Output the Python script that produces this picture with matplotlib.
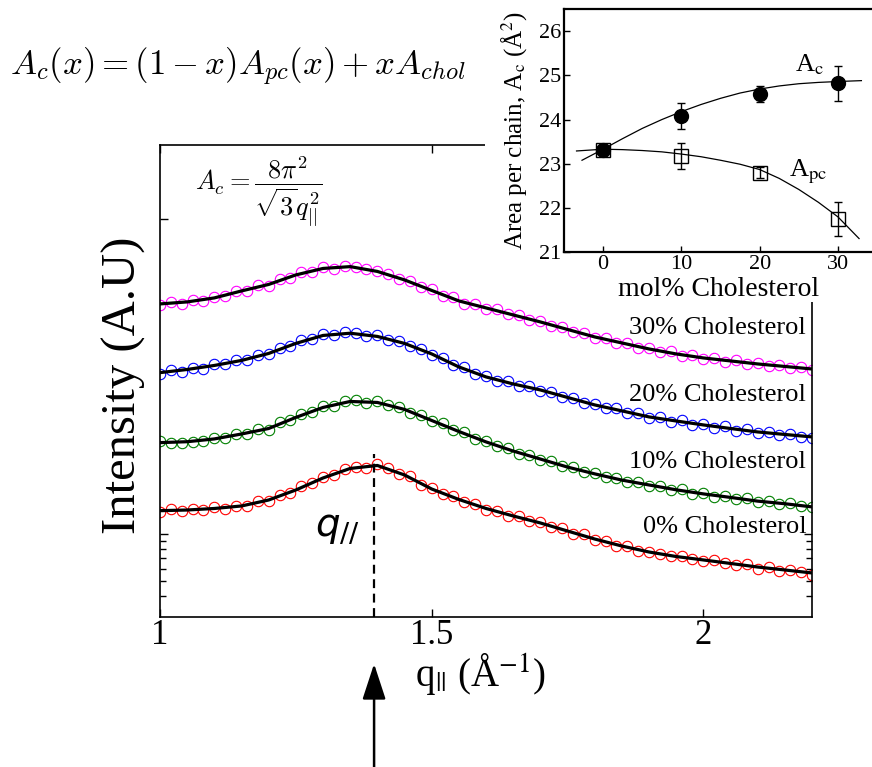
import numpy as np
import matplotlib
matplotlib.use('Agg')
import matplotlib.pyplot as plt
from matplotlib.patches import Rectangle

plt.rcParams['font.family'] = ['Liberation Serif', 'DejaVu Serif']
plt.rcParams['mathtext.fontset'] = 'stix'

# measured points, q in 1/A (step 0.02), intensity in arbitrary units (curves offset)
q = np.round(np.arange(1.0, 2.2001, 0.02), 2)
I_0 = [1.38, 1.43, 1.39, 1.44, 1.41, 1.47, 1.44, 1.50, 1.51, 1.61, 1.62, 1.77, 1.82, 2.01, 2.09,
       2.30, 2.36, 2.57, 2.66, 2.63, 2.76, 2.62, 2.40, 2.31, 2.05, 1.96, 1.78, 1.73, 1.58, 1.55,
       1.42, 1.40, 1.30, 1.29, 1.20, 1.18, 1.10, 1.08, 1.00, 0.99, 0.91, 0.90, 0.84, 0.83, 0.78,
       0.77, 0.74, 0.72, 0.72, 0.69, 0.67, 0.68, 0.65, 0.63, 0.64, 0.60, 0.61, 0.58, 0.59, 0.57, 0.55]
I_10 = [3.86, 3.78, 3.75, 3.82, 3.90, 4.03, 4.08, 4.31, 4.33, 4.60, 4.58, 5.12, 5.25, 5.80, 5.92,
        6.45, 6.50, 6.95, 7.10, 6.80, 7.00, 6.60, 6.35, 5.85, 5.70, 5.20, 5.02, 4.55, 4.40, 4.00,
        3.90, 3.60, 3.52, 3.22, 3.18, 2.92, 2.88, 2.68, 2.64, 2.46, 2.43, 2.28, 2.26, 2.12, 2.13,
        2.01, 2.02, 1.90, 1.91, 1.80, 1.82, 1.72, 1.74, 1.66, 1.68, 1.59, 1.62, 1.54, 1.56, 1.49, 1.47]
I_20 = [10.4, 10.9, 10.7, 11.3, 11.2, 11.9, 11.9, 12.6, 12.7, 13.7, 13.8, 15.1, 15.5, 16.9, 17.2,
        18.5, 18.2, 19.1, 18.9, 18.0, 18.3, 17.0, 16.8, 15.5, 15.0, 13.6, 13.1, 11.8, 11.4, 10.3,
        10.1, 9.40, 9.30, 8.65, 8.62, 8.05, 7.98, 7.40, 7.32, 6.75, 6.70, 6.25, 6.25, 5.82, 5.85,
        5.40, 5.50, 5.15, 5.25, 4.92, 5.00, 4.72, 4.80, 4.52, 4.60, 4.35, 4.45, 4.22, 4.30, 4.10, 4.05]
I_30 = [28.3, 29.8, 29.0, 30.6, 30.2, 32.1, 32.3, 34.9, 35.0, 37.8, 37.6, 41.5, 42.2, 45.8, 46.0,
        49.5, 48.3, 50.5, 49.8, 48.4, 47.0, 44.9, 41.3, 40.5, 36.9, 35.8, 32.6, 31.7, 29.0, 28.9,
        26.8, 26.6, 24.7, 24.5, 22.8, 22.6, 20.9, 20.7, 19.1, 18.9, 17.5, 17.5, 16.3, 16.3, 15.2,
        15.2, 14.2, 14.4, 13.5, 13.6, 12.9, 13.1, 12.4, 12.6, 12.0, 12.2, 11.6, 11.8, 11.3, 11.5, 10.9]

# fitted curves (step 0.05)
q_fit = np.round(np.arange(1.0, 2.2001, 0.05), 2)
fit_0 = [1.400, 1.414, 1.446, 1.500, 1.637, 1.895, 2.259, 2.597, 2.713, 2.361, 1.923, 1.650, 1.446,
         1.296, 1.170, 1.040, 0.925, 0.835, 0.765, 0.716, 0.681, 0.647, 0.614, 0.588, 0.563]
fit_10 = [3.79, 3.84, 4.00, 4.30, 4.66, 5.48, 6.34, 6.92, 6.82, 6.16, 5.24, 4.46, 3.83,
          3.35, 2.98, 2.65, 2.40, 2.19, 2.04, 1.90, 1.79, 1.70, 1.61, 1.55, 1.48]
fit_20 = [10.55, 11.05, 11.72, 12.61, 13.97, 16.18, 18.18, 18.78, 17.92, 16.18, 13.87, 11.47, 9.91,
          8.94, 8.19, 7.34, 6.58, 6.03, 5.52, 5.20, 4.91, 4.66, 4.43, 4.27, 4.12]
fit_30 = [28.83, 29.69, 31.48, 34.86, 38.34, 44.07, 48.45, 49.75, 46.38, 40.96, 35.12, 30.13, 27.19,
          24.54, 22.15, 19.85, 17.79, 16.29, 14.92, 13.87, 13.08, 12.52, 11.98, 11.55, 11.13]

series_labels = ['0% Cholesterol', '10% Cholesterol', '20% Cholesterol', '30% Cholesterol']
series_colors = ['red', '#008000', 'blue', 'magenta']

q_peak = 1.394
peak_top = 3.2

# inset: area per chain vs cholesterol
mol = [0, 10, 20, 30]
A_c = [23.32, 24.08, 24.58, 24.82]
A_c_err = [0.05, 0.30, 0.19, 0.40]
A_pc = [23.32, 23.17, 22.80, 21.75]
A_pc_err = [0.05, 0.29, 0.13, 0.38]
ac_fit_x = [-2.7, 0, 2.5, 5, 7.5, 10, 12.5, 15, 17.5, 20, 22.5, 25, 27.5, 30, 33]
ac_fit = [23.08, 23.33, 23.57, 23.80, 24.00, 24.18, 24.34, 24.48, 24.60, 24.69, 24.76, 24.81,
          24.84, 24.86, 24.88]
apc_fit_x = [-3.4, 0, 2.5, 5, 7.5, 10, 12.5, 15, 17.5, 20, 22.5, 25, 27.5, 30, 32.7]
apc_fit = [23.29, 23.33, 23.32, 23.30, 23.27, 23.22, 23.16, 23.08, 22.99, 22.87, 22.67, 22.42,
           22.13, 21.80, 21.31]

fig = plt.figure(figsize=(8.72, 7.67), dpi=100)

# main plot
ax = fig.add_axes([0.1835, 0.196, 0.7477, 0.615])
data = [I_0, I_10, I_20, I_30]
fits = [fit_0, fit_10, fit_20, fit_30]
label_y = [0.177, 0.316, 0.458, 0.600]
for d, f, c, lab, ly in zip(data, fits, series_colors, series_labels, label_y):
    ax.plot(q, d, 'o', mfc='none', mec=c, ms=7.5, mew=0.8)
    ax.plot(q_fit, f, 'k-', lw=2.3)
    ax.text(0.991, ly, lab, transform=ax.transAxes, ha='right', va='baseline', fontsize=19)

ax.set_yscale('log')
ax.set_xlim(1, 2.2)
ax.set_ylim(0.297, 295)
ax.plot([q_peak, q_peak], [0.297, peak_top], 'k--', lw=1.6, dashes=(4, 2.5))

ax.set_xticks([1, 1.5, 2])
ax.set_xticklabels(['1', '1.5', '2'])
ax.set_yticks([1, 100])
ax.set_yticks([0.4, 0.5, 0.6, 0.7, 0.8, 0.9], minor=True)
ax.xaxis.set_minor_locator(matplotlib.ticker.NullLocator())
ax.tick_params(which='both', direction='in', top=True, right=True, labelleft=False,
               labelsize=25, pad=2, width=1)
ax.tick_params(which='major', length=6)
ax.tick_params(which='minor', length=4)
for s in ax.spines.values():
    s.set_linewidth(1.2)

ax.set_xlabel('q$_{||}$ (Å$^{-1}$)', fontsize=28)
ax.xaxis.set_label_coords(0.491, -0.122)
ax.xaxis.label.set_va('center')
ax.set_ylabel('Intensity (A.U)', fontsize=35)
ax.yaxis.set_label_coords(-0.056, 0.491)
ax.yaxis.label.set_va('center')

ax.text(0.273, 0.190, r'$q_{//}$', transform=ax.transAxes, ha='center', va='center',
        fontsize=28, math_fontfamily='dejavusans')
ax.text(0.054, 0.900, r'$A_c = \dfrac{8\pi^2}{\sqrt{3}q_{||}^2}$', transform=ax.transAxes,
        ha='left', va='center', fontsize=19, math_fontfamily='cm')

ax.annotate('', xy=(q_peak, -0.100), xytext=(q_peak, -0.34),
            xycoords=('data', 'axes fraction'), textcoords=('data', 'axes fraction'),
            arrowprops=dict(arrowstyle='-|>,head_length=1.1,head_width=0.36',
                            mutation_scale=20, lw=1.8, color='k', shrinkA=0, shrinkB=0),
            annotation_clip=False)

fig.text(10 / 872, 1 - 67 / 767, r'$A_c(x) = (1-x)A_{pc}(x) + xA_{chol}$',
         ha='left', va='center', fontsize=25, math_fontfamily='cm')

# white backing behind the inset
fig.add_artist(Rectangle((0.5562, 0.6063), 0.4438, 0.3937, transform=fig.transFigure,
                         fc='white', ec='none', zorder=1))

ins = fig.add_axes([0.6468, 0.6711, 0.359, 0.3172], zorder=2)
ins.plot(ac_fit_x, ac_fit, 'k-', lw=0.9)
ins.plot(apc_fit_x, apc_fit, 'k-', lw=0.9)
ins.errorbar(mol, A_pc, yerr=A_pc_err, fmt='s', mfc='none', mec='k', ecolor='k',
             ms=10, mew=1, capsize=3, elinewidth=1)
ins.errorbar(mol, A_c, yerr=A_c_err, fmt='o', color='k', ms=10, capsize=3, elinewidth=1)
ins.set_xlim(-5, 35)
ins.set_ylim(21, 26.5)
ins.set_xticks([0, 10, 20, 30])
ins.set_yticks([21, 22, 23, 24, 25, 26])
ins.tick_params(direction='in', labelsize=16, length=4, width=1, pad=2)
for s in ins.spines.values():
    s.set_linewidth(1.6)
ins.set_xlabel('mol% Cholesterol', fontsize=20)
ins.xaxis.set_label_coords(0.495, -0.10)
ins.set_ylabel(r'Area per chain, A$_\mathrm{c}$ (Å$^2$)', fontsize=18)
ins.yaxis.set_label_coords(-0.160, 0.5)
ins.yaxis.label.set_va('center')
ins.text(26.4, 25.25, r'A$_\mathrm{c}$', ha='center', va='center', fontsize=19)
ins.text(26.2, 22.82, r'A$_\mathrm{pc}$', ha='center', va='center', fontsize=19)

fig.savefig('out.png', dpi=100)
